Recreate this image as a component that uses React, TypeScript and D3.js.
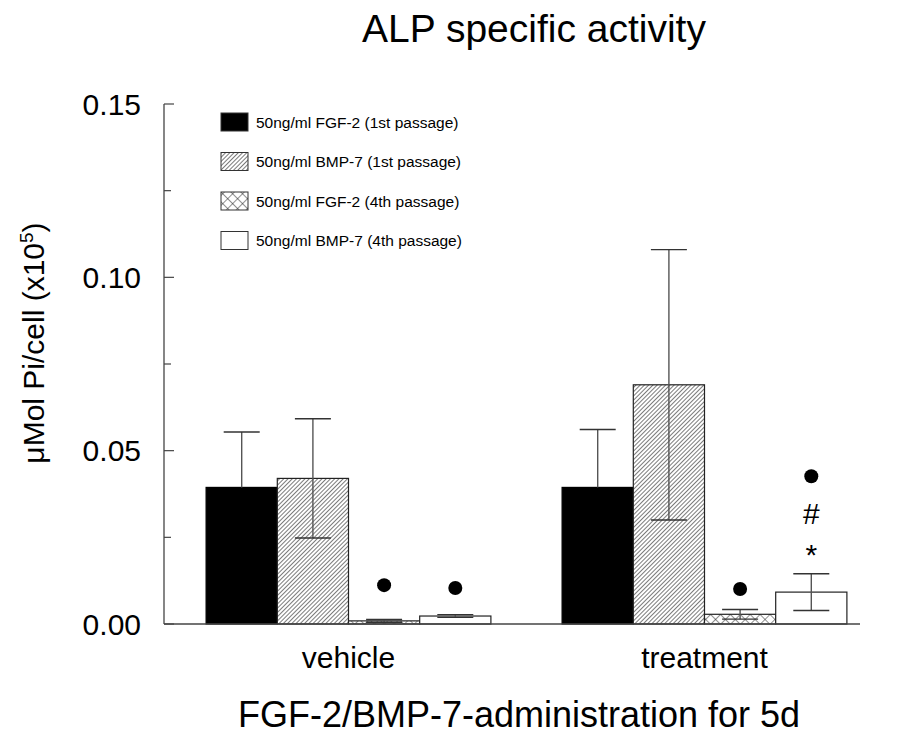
import React from 'react';
import * as d3 from 'd3';

// data
const categories = ['vehicle', 'treatment'];
const seriesNames = [
  '50ng/ml FGF-2 (1st passage)',
  '50ng/ml BMP-7 (1st passage)',
  '50ng/ml FGF-2 (4th passage)',
  '50ng/ml BMP-7 (4th passage)',
];
const fgf2First = [0.0394, 0.0394];
const bmp7First = [0.042, 0.069];
const fgf2Fourth = [0.0009, 0.0028];
const bmp7Fourth = [0.0023, 0.0092];
const fgf2FirstErr = [0.016, 0.0167];
const bmp7FirstErr = [0.0172, 0.039];
const fgf2FourthErr = [0.0004, 0.0014];
const bmp7FourthErr = [0.0004, 0.0053];
const yTicks = [0, 0.05, 0.1, 0.15];
const yMinorTicks = [0.025, 0.075, 0.125];
// significance marks: [category, series index, value, symbol]
const marks: [string, number, number, string][] = [
  ['vehicle', 2, 0.0112, 'dot'],
  ['vehicle', 3, 0.0104, 'dot'],
  ['treatment', 2, 0.0101, 'dot'],
  ['treatment', 3, 0.0426, 'dot'],
  ['treatment', 3, 0.032, '#'],
  ['treatment', 3, 0.022, '*'],
];

const values = [fgf2First, bmp7First, fgf2Fourth, bmp7Fourth];
const errors = [fgf2FirstErr, bmp7FirstErr, fgf2FourthErr, bmp7FourthErr];
const fills = ['#000', 'url(#hatch)', 'url(#cross)', '#fff'];

const width = 906;
const height = 737;
const font = 'Liberation Sans, Arial, sans-serif';

const App = () => {
  const yScale = d3.scaleLinear().domain([0, 0.15]).range([624, 104]);
  const xScale = d3.scaleBand().domain(categories).range([170.5, 882.5])
    .paddingInner(0.2).paddingOuter(0.1);
  const xInner = d3.scaleBand().domain(d3.range(4).map(String))
    .range([0, xScale.bandwidth()]);
  const axisX = 164;
  const capW = 36;

  return (
    <svg width={width} height={height} style={{ position: 'absolute', left: 0, top: 0, background: '#fff' }}>
      <defs>
        <pattern id="hatch" patternUnits="userSpaceOnUse" width="3" height="3" patternTransform="rotate(45)">
          <rect width="3" height="3" fill="#fff" />
          <line x1="0" y1="0" x2="0" y2="3" stroke="#333" strokeWidth="1.3" />
        </pattern>
        <pattern id="cross" patternUnits="userSpaceOnUse" width="7" height="7" patternTransform="rotate(45)">
          <rect width="7" height="7" fill="#fff" />
          <line x1="0" y1="0" x2="7" y2="0" stroke="#222" strokeWidth="1" />
          <line x1="0" y1="0" x2="0" y2="7" stroke="#222" strokeWidth="1" />
        </pattern>
      </defs>

      <text x={534} y={42} textAnchor="middle" fontFamily={font} fontSize={39}>ALP specific activity</text>

      {/* y axis */}
      <line x1={axisX} x2={axisX} y1={yScale(0.15)} y2={yScale(0)} stroke="#444" strokeWidth={1.3} />
      {yTicks.map(t => (
        <g key={t}>
          <line x1={axisX} x2={axisX + 10} y1={yScale(t)} y2={yScale(t)} stroke="#444" strokeWidth={1.2} />
          <text x={141} y={yScale(t)} dy="0.36em" textAnchor="end" fontFamily={font} fontSize={30}>
            {d3.format('.2f')(t)}
          </text>
        </g>
      ))}
      {yMinorTicks.map(t => (
        <line key={t} x1={axisX} x2={axisX + 7} y1={yScale(t)} y2={yScale(t)} stroke="#444" strokeWidth={1.2} />
      ))}
      <text transform={`translate(44, 343) rotate(-90)`} textAnchor="middle" fontFamily={font} fontSize={30}>
        μMol Pi/cell (x10<tspan dy="-11" fontSize={19}>5</tspan><tspan dy="11">)</tspan>
      </text>

      {/* bars */}
      {categories.map((c, ci) => (
        <g key={c} transform={`translate(${xScale(c)},0)`}>
          {values.map((vals, si) => {
            const x = xInner(String(si))!;
            const v = vals[ci];
            const e = errors[si][ci];
            const cx = x + xInner.bandwidth() / 2;
            const lo = si === 0 ? v : v - e;
            return (
              <g key={si}>
                <rect x={x} y={yScale(v)} width={xInner.bandwidth()} height={yScale(0) - yScale(v)}
                  fill={fills[si]} stroke={si === 0 ? '#000' : '#222'} strokeWidth={1.2} />
                <line x1={cx} x2={cx} y1={yScale(v + e)} y2={yScale(lo)} stroke="#555" strokeWidth={1.4} />
                <line x1={cx - capW / 2} x2={cx + capW / 2} y1={yScale(v + e)} y2={yScale(v + e)} stroke="#333" strokeWidth={1.4} />
                {si !== 0 && (
                  <line x1={cx - capW / 2} x2={cx + capW / 2} y1={yScale(v - e)} y2={yScale(v - e)} stroke="#333" strokeWidth={1.4} />
                )}
              </g>
            );
          })}
          <text x={xScale.bandwidth() / 2} y={668} textAnchor="middle" fontFamily={font} fontSize={30}>{c}</text>
        </g>
      ))}
      <line x1={axisX} x2={860} y1={yScale(0)} y2={yScale(0)} stroke="#444" strokeWidth={1.4} />

      {marks.map(([c, si, v, sym], i) => {
        const cx = xScale(c)! + xInner(String(si))! + xInner.bandwidth() / 2;
        if (sym === 'dot') return <circle key={i} cx={cx} cy={yScale(v)} r={7} fill="#000" />;
        return (
          <text key={i} x={cx} y={yScale(v)} dy={sym === '*' ? '0.57em' : '0.36em'} textAnchor="middle"
            fontFamily={font} fontSize={30}>{sym}</text>
        );
      })}

      {/* legend */}
      {seriesNames.map((name, i) => {
        const y = 122 + i * 39.5;
        return (
          <g key={name}>
            <rect x={221} y={y - 9} width={27} height={18} fill={fills[i]} stroke="#333" strokeWidth={1} />
            <text x={256} y={y} dy="0.36em" fontFamily={font} fontSize={15.5}>{name}</text>
          </g>
        );
      })}

      <text x={519} y={727} textAnchor="middle" fontFamily={font} fontSize={36}>FGF-2/BMP-7-administration for 5d</text>
    </svg>
  );
};

export default App;
